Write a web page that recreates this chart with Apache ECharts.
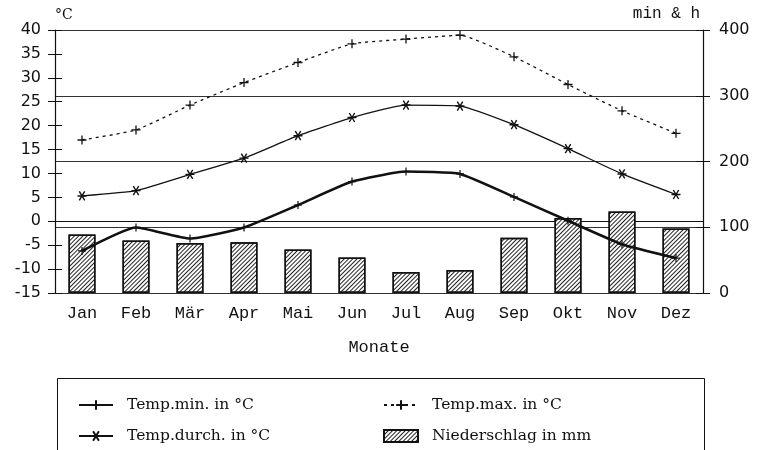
<!DOCTYPE html>
<html>
<head>
<meta charset="utf-8">
<script src="https://cdn.jsdelivr.net/npm/echarts@6/dist/echarts.min.js"></script>
<style>
  html, body { margin: 0; padding: 0; background: #fff; }
  #chart { width: 758px; height: 450px; }
</style>
</head>
<body>
<div id="chart"></div>
<script>
// Monate
const months = ['Jan', 'Feb', 'Mär', 'Apr', 'Mai', 'Jun', 'Jul', 'Aug', 'Sep', 'Okt', 'Nov', 'Dez'];
// Temperaturen in °C
const tempMin = [-6.2, -1.3, -3.6, -1.3, 3.4, 8.3, 10.4, 9.9, 5.1, 0.1, -4.8, -7.7];
const tempDurch = [5.3, 6.4, 9.8, 13.2, 17.9, 21.7, 24.3, 24.1, 20.2, 15.2, 9.9, 5.6];
const tempMax = [17.0, 19.1, 24.3, 29.0, 33.2, 37.1, 38.1, 38.9, 34.4, 28.6, 23.1, 18.4];
// Niederschlag in mm
const niederschlag = [89, 80, 76, 77, 66, 54, 32, 35, 84, 114, 124, 98];

const leftTicks = { min: -15, max: 40, interval: 5 };
const rightTicks = { min: 0, max: 400, interval: 100 };

const plusSym = 'path://M0,5L10,5M5,0L5,10';
const starSym = 'path://M0,5L10,5M2,1L8,9M8,1L2,9';

const numFont = { fontFamily: 'DejaVu Sans', fontSize: 16, color: '#111' };
const ink = '#111';
const legendText = { fontFamily: 'DejaVu Serif', fontSize: 15.5, color: ink, padding: [0, 0, 0, 9] };

const chart = echarts.init(document.getElementById('chart'));

const option = {
  animation: false,
  backgroundColor: '#fff',
  grid: { left: 55, right: 55, top: 30, bottom: 157 },
  xAxis: {
    type: 'category',
    data: months,
    boundaryGap: true,
    name: 'Monate',
    nameLocation: 'middle',
    nameGap: 46,
    nameTextStyle: { fontFamily: 'Liberation Mono', fontSize: 17, color: ink },
    axisLine: { lineStyle: { color: ink, width: 1.2 } },
    axisTick: { inside: true, alignWithLabel: true, length: 7, lineStyle: { color: ink } },
    axisLabel: { fontFamily: 'Liberation Mono', fontSize: 17, color: ink, margin: 12 }
  },
  yAxis: [
    {
      type: 'value', position: 'left', ...leftTicks,
      name: '°C', nameLocation: 'end', nameGap: 8,
      nameTextStyle: { fontFamily: 'DejaVu Serif', fontSize: 14, color: ink, align: 'left' },
      axisLine: { show: true, lineStyle: { color: ink, width: 1.2 } },
      axisTick: { show: true, length: 7, lineStyle: { color: ink } },
      axisLabel: { ...numFont, margin: 14 },
      splitLine: { show: false }
    },
    {
      type: 'value', position: 'right', ...rightTicks,
      name: 'min & h', nameLocation: 'end', nameGap: 8,
      nameTextStyle: { fontFamily: 'Liberation Mono', fontSize: 16, color: ink, align: 'right', padding: [0, 3, 0, 0] },
      axisLine: { show: true, lineStyle: { color: ink, width: 1.2 } },
      axisTick: { show: true, length: 7, lineStyle: { color: ink } },
      axisLabel: { ...numFont, margin: 16 },
      splitLine: { show: true, lineStyle: { color: '#333', width: 1 } }
    },
    {
      type: 'value', position: 'left', ...leftTicks,
      axisLine: { show: false },
      axisTick: { show: true, inside: true, length: 7, lineStyle: { color: ink } },
      axisLabel: { show: false },
      splitLine: { show: false }
    },
    {
      type: 'value', position: 'right', ...rightTicks,
      axisLine: { show: false },
      axisTick: { show: true, inside: true, length: 7, lineStyle: { color: ink } },
      axisLabel: { show: false },
      splitLine: { show: false }
    }
  ],
  legend: [
    {
      left: 73, top: 392, orient: 'vertical', itemGap: 15,
      itemWidth: 34, itemHeight: 12,
      textStyle: legendText,
      data: ['Temp.min. in °C', 'Temp.durch. in °C']
    },
    {
      left: 378, top: 392, orient: 'vertical', itemGap: 15,
      itemWidth: 34, itemHeight: 12,
      textStyle: legendText,
      data: ['Temp.max. in °C', { name: 'Niederschlag in mm', icon: 'rect' }]
    }
  ],
  graphic: [
    {
      type: 'rect', left: 55, top: 376, silent: true,
      shape: { width: 647, height: 110 },
      style: { fill: 'none', stroke: ink, lineWidth: 1 }
    }
  ],
  series: [
    {
      name: 'Niederschlag in mm',
      type: 'bar',
      yAxisIndex: 1,
      barWidth: '50%',
      data: niederschlag,
      itemStyle: {
        color: '#fff',
        borderColor: ink,
        borderWidth: 1.5,
        decal: {
          symbol: 'rect',
          color: '#222',
          dashArrayX: [1, 0],
          dashArrayY: [1, 2],
          rotation: -Math.PI / 4
        }
      },
      z: 1
    },
    {
      name: 'Temp.min. in °C',
      type: 'line',
      yAxisIndex: 0,
      data: tempMin,
      smooth: 0.15,
      symbol: plusSym,
      symbolSize: 8,
      lineStyle: { color: ink, width: 2.6 },
      itemStyle: { color: ink, borderColor: ink, borderWidth: 1.2 },
      z: 5
    },
    {
      name: 'Temp.durch. in °C',
      type: 'line',
      yAxisIndex: 0,
      data: tempDurch,
      smooth: 0.15,
      symbol: starSym,
      symbolSize: 9,
      lineStyle: { color: ink, width: 1.3 },
      itemStyle: { color: ink, borderColor: ink, borderWidth: 1.4 },
      z: 5
    },
    {
      name: 'Temp.max. in °C',
      type: 'line',
      yAxisIndex: 0,
      data: tempMax,
      smooth: 0.15,
      symbol: plusSym,
      symbolSize: 9,
      lineStyle: { color: ink, width: 1.3, type: [3, 4] },
      itemStyle: { color: ink, borderColor: ink, borderWidth: 1.3 },
      z: 5
    }
  ]
};

chart.setOption(option);
</script>
</body>
</html>
